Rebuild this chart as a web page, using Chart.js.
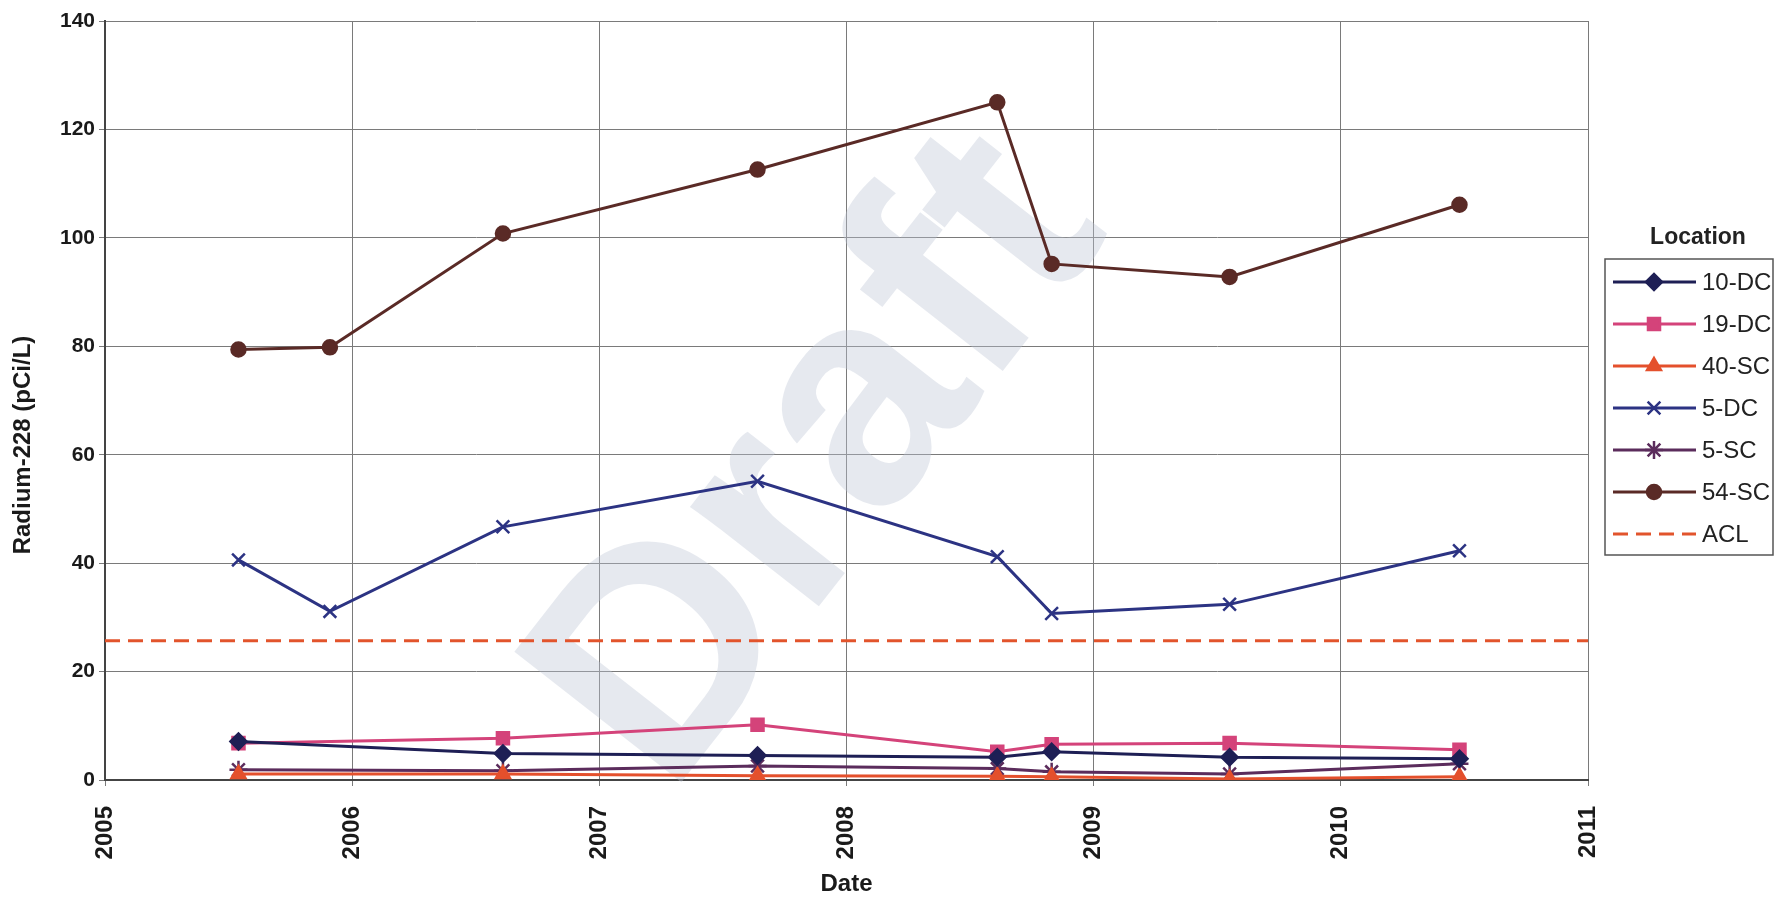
<!DOCTYPE html>
<html>
<head>
<meta charset="utf-8">
<script src="https://cdn.jsdelivr.net/npm/chart.js@4.4.0/dist/chart.umd.min.js"></script>
<style>
  html, body { margin: 0; padding: 0; background: #fff; }
  #wrap { position: relative; width: 1779px; height: 900px; }
</style>
</head>
<body>
<div id="wrap"><canvas id="chart" width="1779" height="900"></canvas></div>
<script>
// sampling dates (decimal years)
const datesAll = [2005.54, 2005.91, 2006.61, 2007.64, 2008.61, 2008.83, 2009.55, 2010.48];
const datesLow = [2005.54, 2006.61, 2007.64, 2008.61, 2008.83, 2009.55, 2010.48];

// Radium-228 (pCi/L) per location
const dc10 = [7.1, 4.9, 4.5, 4.2, 5.2, 4.2, 3.9];
const dc19 = [6.8, 7.7, 10.2, 5.2, 6.6, 6.8, 5.6];
const sc40 = [1.1, 1.1, 0.8, 0.7, 0.6, 0.2, 0.6];
const dc5 = [40.6, 31.1, 46.7, 55.1, 41.2, 30.7, 32.4, 42.3];
const sc5 = [1.9, 1.7, 2.6, 2.1, 1.5, 1.1, 3.0];
const sc54 = [79.4, 79.8, 100.8, 112.6, 125.0, 95.2, 92.8, 106.1];
const aclDates = [2005, 2011];
const acl = [25.7, 25.7];

const xTicks = [2005, 2006, 2007, 2008, 2009, 2010, 2011];
const yTicks = [0, 20, 40, 60, 80, 100, 120, 140];

const pts = (xs, ys) => xs.map((x, i) => ({ x: x, y: ys[i] }));

function series(label, xs, ys, color, style, radius) {
  return {
    label: label,
    data: pts(xs, ys),
    borderColor: color,
    backgroundColor: color,
    borderWidth: 3,
    pointStyle: style,
    pointRadius: radius,
    pointBorderWidth: 2.5,
    tension: 0
  };
}

const datasets = [
  series("10-DC", datesLow, dc10, "#1e1f55", "rectRot", 8),
  series("19-DC", datesLow, dc19, "#d4437a", "rect", 8.5),
  series("40-SC", datesLow, sc40, "#e4502c", "triangle", 8),
  series("5-DC", datesAll, dc5, "#2c3383", "crossRot", 9),
  series("5-SC", datesLow, sc5, "#5b2c5c", "star", 9),
  series("54-SC", datesAll, sc54, "#5a2a26", "circle", 7),
  {
    label: "ACL",
    data: pts(aclDates, acl),
    borderColor: "#e2542c",
    backgroundColor: "#e2542c",
    borderWidth: 3,
    borderDash: [15, 8],
    pointRadius: 0
  }
];

const fontFam = '"Liberation Sans", Arial, sans-serif';

// faint "Draft" stamp behind the lines, plus the y title placed like the original
const underlay = {
  id: "underlay",
  beforeDatasetsDraw(chart) {
    const ctx = chart.ctx;
    ctx.save();
    ctx.translate(823, 463);
    ctx.rotate(-52 * Math.PI / 180);
    ctx.font = "bold 308px " + fontFam;
    ctx.textAlign = "center";
    ctx.textBaseline = "middle";
    ctx.fillStyle = "rgba(190,196,214,0.38)";
    ctx.fillText("Draft", 0, 0);
    ctx.restore();

    ctx.save();
    ctx.translate(23, 445);
    ctx.rotate(-Math.PI / 2);
    ctx.font = "bold 24px " + fontFam;
    ctx.textAlign = "center";
    ctx.textBaseline = "middle";
    ctx.fillStyle = "#1a1a1a";
    ctx.fillText("Radium-228 (pCi/L)", 0, 0);
    ctx.restore();
  }
};

// boxed legend on the right, like the spreadsheet one
const sideLegend = {
  id: "sideLegend",
  afterDraw(chart) {
    const ctx = chart.ctx;
    ctx.save();
    ctx.fillStyle = "#222";
    ctx.font = "bold 23px " + fontFam;
    ctx.textAlign = "center";
    ctx.textBaseline = "middle";
    ctx.fillText("Location", 1698, 238);

    ctx.strokeStyle = "#555";
    ctx.lineWidth = 1.5;
    ctx.strokeRect(1605, 259, 168, 296);

    ctx.font = "24px " + fontFam;
    ctx.textAlign = "left";
    chart.data.datasets.forEach((ds, i) => {
      const y = 282 + i * 42;
      ctx.strokeStyle = ds.borderColor;
      ctx.lineWidth = ds.borderWidth;
      ctx.setLineDash(ds.borderDash || []);
      ctx.beginPath();
      ctx.moveTo(1613, y);
      ctx.lineTo(1696, y);
      ctx.stroke();
      ctx.setLineDash([]);
      if (ds.pointRadius) {
        ctx.fillStyle = ds.backgroundColor;
        ctx.lineWidth = ds.pointBorderWidth;
        Chart.helpers.drawPoint(ctx, { pointStyle: ds.pointStyle, radius: ds.pointRadius, rotation: 0, borderWidth: ds.pointBorderWidth }, 1654, y);
      }
      ctx.fillStyle = "#222";
      ctx.fillText(ds.label, 1702, y + 1);
    });
    ctx.restore();
  }
};

new Chart(document.getElementById("chart"), {
  type: "line",
  data: { datasets: datasets },
  options: {
    responsive: false,
    animation: false,
    layout: { padding: { top: 21, right: 191, left: 0, bottom: 0 } },
    plugins: { legend: { display: false }, tooltip: { enabled: false } },
    scales: {
      x: {
        type: "linear",
        min: 2005,
        max: 2011,
        afterBuildTicks: s => { s.ticks = xTicks.map(v => ({ value: v })); },
        afterFit: s => { s.height = 120; },
        ticks: {
          minRotation: 90,
          maxRotation: 90,
          padding: 20,
          color: "#1a1a1a",
          font: { family: fontFam, weight: "bold", size: 24 },
          callback: v => String(v)
        },
        grid: { color: "#7a7a7a", lineWidth: 1, tickLength: 6 },
        border: { color: "#444", width: 2 },
        title: {
          display: true,
          text: "Date",
          color: "#1a1a1a",
          font: { family: fontFam, weight: "bold", size: 24 },
          padding: { top: 0, bottom: 1 }
        }
      },
      y: {
        min: 0,
        max: 140,
        afterBuildTicks: s => { s.ticks = yTicks.map(v => ({ value: v })); },
        afterFit: s => { s.width = 105; },
        ticks: { padding: 4, color: "#1a1a1a", font: { family: fontFam, weight: "bold", size: 21 } },
        grid: { color: "#7a7a7a", lineWidth: 1, tickLength: 6 },
        border: { color: "#444", width: 2 }
      }
    }
  },
  plugins: [underlay, sideLegend]
});
</script>
</body>
</html>
